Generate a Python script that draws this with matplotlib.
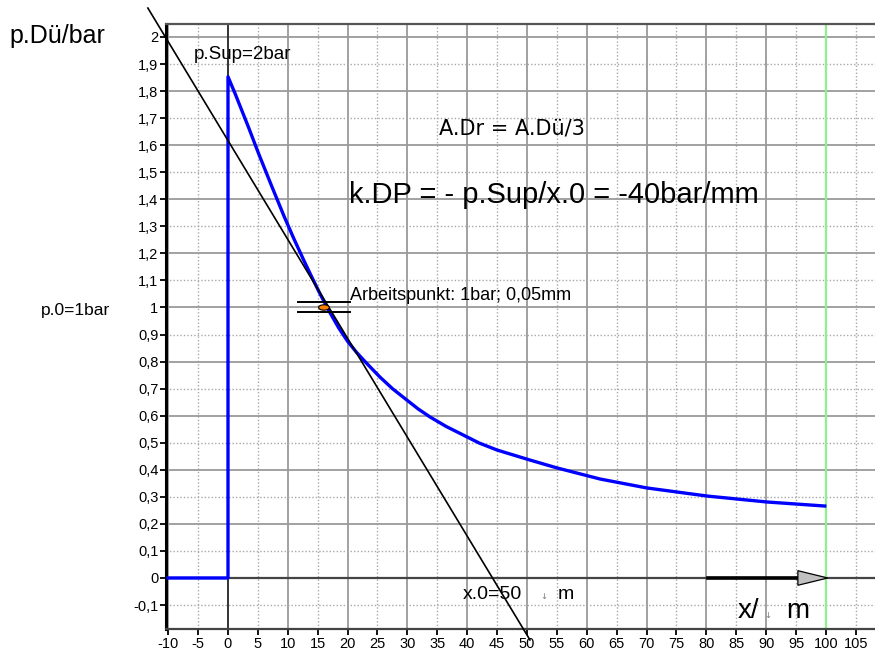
import matplotlib.pyplot as plt
from matplotlib.patches import Ellipse, Polygon
from matplotlib.ticker import FuncFormatter

plt.rcParams["axes.unicode_minus"] = False

# Druckverlauf p.Dü über Weg x
x_wert = [-10, 0, 0, 1.2, 3.4, 5.1, 7.3, 9.4, 11.0, 12.6, 14.0, 15.4, 17.0,
          18.5, 20.0, 21.5, 23.0, 25.4, 27.5, 29.9, 31.8, 33.8, 36.5, 39.3,
          42.0, 45.0, 50.5, 55.0, 62.2, 70.0, 80.1, 90.1, 99.8]
p_wert = [0, 0, 1.853, 1.79, 1.668, 1.57, 1.449, 1.336, 1.255, 1.178, 1.113,
          1.05, 0.983, 0.925, 0.875, 0.834, 0.798, 0.743, 0.70, 0.658, 0.625,
          0.595, 0.560, 0.529, 0.499, 0.473, 0.436, 0.407, 0.366, 0.333,
          0.303, 0.281, 0.266]

# Tangente im Arbeitspunkt
tang_x = [-13.4, 50.5]
tang_p = [2.107, -0.229]

# Arbeitspunkt
ap_x = 16.05
ap_p = 1.0

x_ticks = list(range(-10, 110, 5))
p_ticks = [round(-0.1 + 0.1 * i, 1) for i in range(22)]

fig = plt.figure(figsize=(8.75, 6.56), dpi=100)
ax = fig.add_axes([0.1897, 0.0412, 0.8103, 0.9222])
ax.set_xlim(-10.37, 108.2)
ax.set_ylim(-0.1885, 2.048)

# Gitter: durchgezogen alle 10 / 0,2, gepunktet dazwischen
for xv in x_ticks:
    if xv == 0 or xv == 100:
        continue
    if xv % 10 == 0:
        ax.axvline(xv, color="#9a9a9a", lw=1.3, zorder=0.5)
    else:
        ax.axvline(xv, color="#a8a8a8", lw=1.0, ls=(0, (1, 1.5)), zorder=0.5)
for pv in p_ticks:
    if abs(pv) < 1e-9:
        continue
    if round(pv * 10) % 2 == 0:
        ax.axhline(pv, color="#9a9a9a", lw=1.3, zorder=0.5)
    else:
        ax.axhline(pv, color="#a8a8a8", lw=1.0, ls=(0, (1, 1.5)), zorder=0.5)

ax.axvline(0, color="#333333", lw=1.4, zorder=1.5)
ax.axhline(0, color="#444444", lw=1.6, zorder=1.5)
ax.axvline(100, color="#90f090", lw=1.6, zorder=1.6)

ax.plot(x_wert, p_wert, color="#0000ff", lw=2.4, zorder=3)
ax.plot(tang_x, tang_p, color="black", lw=1.2, zorder=4, clip_on=False)

# Arbeitspunkt-Markierung
ax.plot([11.65, 20.4], [1.019, 1.019], color="black", lw=1.4, zorder=5)
ax.plot([11.65, 20.4], [0.982, 0.982], color="black", lw=1.4, zorder=5)
ax.add_patch(Ellipse((ap_x, ap_p), 1.8, 0.02, facecolor="#ff7f00",
                     edgecolor="black", lw=0.8, zorder=6))

# Pfeil x-Richtung
ax.plot([80.3, 95.3], [0, 0], color="black", lw=2.6, zorder=5)
ax.add_patch(Polygon([[95.3, 0.027], [95.3, -0.027], [100.3, 0]], closed=True,
                     facecolor="#c0c0c0", edgecolor="black", lw=0.9, zorder=6))

# Achsen
ax.spines["right"].set_visible(False)
ax.spines["left"].set_linewidth(2.2)
ax.spines["left"].set_color("black")
ax.spines["top"].set_linewidth(1.6)
ax.spines["top"].set_color("#555555")
ax.spines["bottom"].set_linewidth(1.6)
ax.spines["bottom"].set_color("#444444")

ax.set_xticks(x_ticks)
ax.set_yticks(p_ticks)


def komma(v, pos):
    s = ("%.1f" % v).rstrip("0").rstrip(".")
    if s == "-0":
        s = "0"
    return s.replace(".", ",")


ax.yaxis.set_major_formatter(FuncFormatter(komma))
ax.tick_params(axis="both", direction="out", length=4, width=1.3, color="black",
               labelsize=10.5, pad=1.5)
for lab in ax.get_xticklabels() + ax.get_yticklabels():
    lab.set_family(["Liberation Sans Narrow", "Liberation Sans"])

fn = "Liberation Sans"
fig.text(0.011, 0.935, "p.Dü/bar", fontsize=18, family=fn)
fig.text(0.047, 0.52, "p.0=1bar", fontsize=12.5, family=fn, va="baseline")
ax.text(-5.7, 1.919, "p.Sup=2bar", fontsize=13.5, family=fn)
ax.text(35.3, 1.638, "A.Dr = A.Dü/3", fontsize=15, family="DejaVu Sans")
ax.text(20.2, 1.386, "k.DP = - p.Sup/x.0 = -40bar/mm", fontsize=21, family=fn)
ax.text(20.4, 1.028, "Arbeitspunkt: 1bar; 0,05mm", fontsize=13, family=fn)
ax.text(39.3, -0.078, "x.0=50", fontsize=14, family=fn)
ax.text(52.3, -0.078, "\u2193", fontsize=6, family="DejaVu Sans", color="#777777")
ax.text(55.2, -0.078, "m", fontsize=14, family=fn)
ax.text(85.3, -0.148, "x/", fontsize=20, family=fn)
ax.text(89.6, -0.148, "\u2193", fontsize=6, family="DejaVu Sans", color="#777777")
ax.text(93.3, -0.148, "m", fontsize=20, family=fn)

fig.savefig("out.png", dpi=100)
